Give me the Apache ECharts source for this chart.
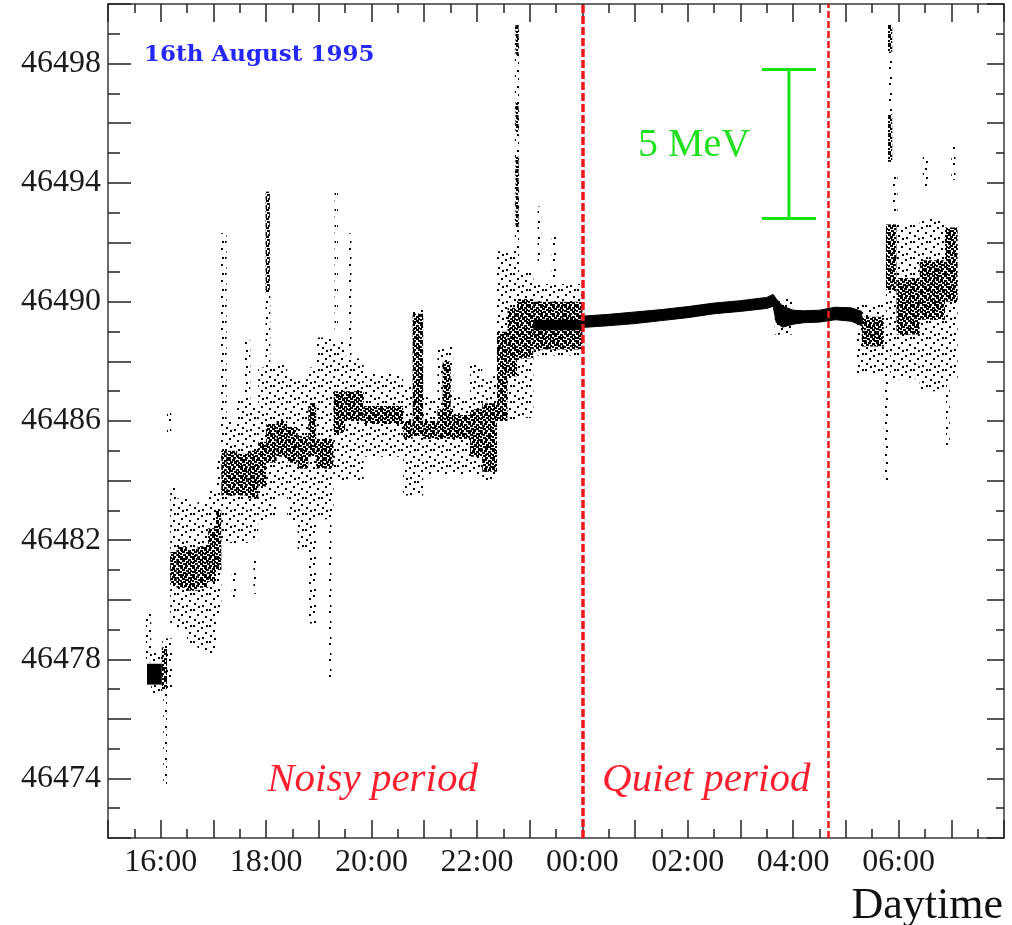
<!DOCTYPE html>
<html>
<head>
<meta charset="utf-8">
<title>Beam energy, 16th August 1995</title>
<script src="https://cdn.jsdelivr.net/npm/echarts@6/dist/echarts.min.js"></script>
<style>
  html, body { margin: 0; padding: 0; background: #fff; }
  #chart { width: 1012px; height: 925px; }
</style>
</head>
<body>
<div id="chart"></div>
<script>
// Time is in hours from 00:00 of 16 August (24 = midnight, 28.667 = 04:40 next day).
// Energy in MeV. Each band is [tStart, tEnd, eLow, eHigh].

// Stable track during the quiet period: time, lower edge, upper edge
const quietTime = [24.0, 24.5, 25.0, 25.5, 26.0, 26.5, 27.0, 27.5, 27.62, 27.68, 27.8, 28.0, 28.2, 28.5, 28.8, 29.1, 29.3];
const quietLow  = [46489.14, 46489.2, 46489.27, 46489.37, 46489.47, 46489.6, 46489.68, 46489.78, 46489.85, 46489.3, 46489.15, 46489.25, 46489.3, 46489.32, 46489.4, 46489.35, 46489.2];
const quietHigh = [46489.52, 46489.58, 46489.66, 46489.74, 46489.84, 46489.96, 46490.04, 46490.15, 46490.25, 46490.1, 46489.85, 46489.72, 46489.7, 46489.72, 46489.82, 46489.8, 46489.68];

// Very dense stretches in the noisy part
const solidBands = [
  [15.74, 16.02, 46477.15, 46477.85],
  [23.07, 24.00, 46489.05, 46489.40]
];

// Cores of the noisy clusters
const denseBands = [
  [16.02, 16.12, 46477.0, 46478.4],
  [16.18, 16.30, 46480.5, 46481.6],
  [16.30, 16.50, 46480.4, 46481.8],
  [16.50, 16.70, 46480.3, 46481.7],
  [16.70, 16.90, 46480.4, 46481.8],
  [16.90, 17.05, 46480.6, 46482.4],
  [17.05, 17.15, 46481.0, 46483.0],
  [17.15, 17.25, 46483.5, 46485.0],
  [17.25, 17.45, 46483.5, 46485.0],
  [17.45, 17.65, 46483.5, 46484.9],
  [17.65, 17.85, 46483.4, 46485.0],
  [17.85, 18.00, 46483.8, 46485.3],
  [17.99, 18.07, 46490.3, 46493.7],
  [18.00, 18.20, 46484.6, 46485.9],
  [18.20, 18.40, 46484.8, 46486.0],
  [18.40, 18.60, 46484.6, 46485.8],
  [18.60, 18.80, 46484.4, 46485.5],
  [18.80, 18.95, 46484.8, 46486.6],
  [18.95, 19.28, 46484.4, 46485.4],
  [19.28, 19.50, 46485.6, 46487.0],
  [19.50, 19.85, 46486.0, 46487.0],
  [19.85, 20.60, 46485.9, 46486.5],
  [20.60, 20.78, 46485.4, 46486.0],
  [20.78, 20.98, 46485.5, 46489.6],
  [20.98, 21.25, 46485.4, 46486.0],
  [21.25, 21.55, 46485.4, 46486.4],
  [21.35, 21.50, 46486.4, 46488.0],
  [21.55, 21.87, 46485.4, 46486.2],
  [21.87, 22.10, 46484.8, 46486.4],
  [22.10, 22.38, 46484.3, 46486.6],
  [22.38, 22.58, 46486.0, 46489.0],
  [22.58, 22.76, 46487.5, 46489.8],
  [22.73, 22.79, 46498.3, 46499.3],
  [22.73, 22.79, 46495.7, 46496.7],
  [22.73, 22.79, 46492.5, 46494.9],
  [22.76, 23.07, 46488.1, 46490.1],
  [23.07, 24.00, 46488.4, 46490.0],
  [29.30, 29.72, 46488.5, 46489.5],
  [29.76, 29.96, 46490.4, 46492.6],
  [29.80, 29.88, 46498.4, 46499.3],
  [29.80, 29.88, 46494.7, 46496.3],
  [29.96, 30.40, 46488.9, 46490.8],
  [30.40, 30.88, 46489.4, 46491.4],
  [30.88, 31.12, 46490.0, 46492.5]
];

// Scattered points around the cores
const sparseBands = [
  [15.72, 15.82, 46477.9, 46479.6],
  [15.82, 16.03, 46476.8, 46478.3],
  [16.05, 16.12, 46473.8, 46477.0],
  [16.03, 16.22, 46477.0, 46478.7],
  [16.12, 16.20, 46485.6, 46486.4],
  [16.18, 16.30, 46479.2, 46483.8],
  [16.30, 16.50, 46479.0, 46483.4],
  [16.50, 16.70, 46478.4, 46483.2],
  [16.70, 16.90, 46478.3, 46483.3],
  [16.90, 17.05, 46478.2, 46483.7],
  [17.05, 17.15, 46479.5, 46484.9],
  [17.13, 17.25, 46485.0, 46492.3],
  [17.15, 17.45, 46481.9, 46486.0],
  [17.35, 17.45, 46480.1, 46481.0],
  [17.45, 17.65, 46481.9, 46486.7],
  [17.60, 17.70, 46486.2, 46488.7],
  [17.65, 17.85, 46482.0, 46486.6],
  [17.76, 17.82, 46480.2, 46481.3],
  [17.85, 18.00, 46482.6, 46487.8],
  [17.99, 18.08, 46486.0, 46490.3],
  [18.00, 18.20, 46482.7, 46487.8],
  [18.20, 18.40, 46483.5, 46487.9],
  [18.40, 18.60, 46482.6, 46487.5],
  [18.60, 18.80, 46481.7, 46487.4],
  [18.80, 18.95, 46479.2, 46487.8],
  [18.95, 19.28, 46482.7, 46488.8],
  [19.18, 19.24, 46477.3, 46482.7],
  [19.30, 19.36, 46489.0, 46493.7],
  [19.28, 19.50, 46484.0, 46488.7],
  [19.50, 19.85, 46484.0, 46488.1],
  [19.56, 19.62, 46488.1, 46492.3],
  [19.85, 20.60, 46484.8, 46487.6],
  [20.60, 20.78, 46483.5, 46487.2],
  [20.78, 20.98, 46483.5, 46489.8],
  [20.98, 21.25, 46484.2, 46486.8],
  [21.25, 21.55, 46484.2, 46488.5],
  [21.55, 21.87, 46484.2, 46486.8],
  [21.87, 22.10, 46484.2, 46487.9],
  [22.10, 22.38, 46484.0, 46487.5],
  [22.38, 22.76, 46486.0, 46491.7],
  [22.72, 22.80, 46490.5, 46499.3],
  [22.76, 23.07, 46486.1, 46491.0],
  [23.05, 24.00, 46488.2, 46490.6],
  [23.15, 23.22, 46491.3, 46493.2],
  [23.42, 23.50, 46490.6, 46492.3],
  [27.65, 28.00, 46488.9, 46490.1],
  [29.20, 29.72, 46487.6, 46489.9],
  [29.72, 29.80, 46484.0, 46488.9],
  [29.80, 29.88, 46496.3, 46498.4],
  [29.76, 29.96, 46488.3, 46490.4],
  [29.88, 29.98, 46493.0, 46494.3],
  [29.84, 30.40, 46487.4, 46492.6],
  [30.40, 30.88, 46487.0, 46492.8],
  [30.46, 30.56, 46493.8, 46494.9],
  [30.85, 31.12, 46487.4, 46492.5],
  [30.90, 30.97, 46485.2, 46487.4],
  [31.00, 31.08, 46494.1, 46495.3]
];

// Start and end of the quiet period (00:00 and 04:40)
const periodBounds = [24.0, 28.667];

// 5 MeV reference bar: [time, low, high]
const energyBar = [[27.92, 46492.8, 46497.8]];

// Axis ranges and tick steps
const timeRange = [15, 32];
const energyRange = [46472, 46500];
const energyLabelStep = 4;
const energyLabelBase = 46474;

// Free text placed in data coordinates (centre of the text): [time, energy, text, style]
const notes = [
  [17.87, 46498.3, '16th August 1995', 'date'],
  [26.12, 46495.25, '5 MeV', 'bar'],
  [20.02, 46473.95, 'Noisy period', 'period'],
  [26.35, 46473.95, 'Quiet period', 'period']
];

// Stipple textures for the point clouds (dot positions inside one tile)
function makePattern(w, h, cells) {
  const c = document.createElement('canvas');
  c.width = w; c.height = h;
  const g = c.getContext('2d');
  g.fillStyle = '#000';
  cells.forEach(([x, y, cw, ch]) => g.fillRect(x, y, cw, ch));
  return c;
}
const densePattern = makePattern(12, 9, [
  [0, 0, 3, 2], [4, 0, 3, 2], [8, 1, 3, 2], [2, 2, 3, 2], [6, 3, 3, 2],
  [10, 3, 2, 2], [0, 4, 2, 2], [3, 5, 3, 2], [8, 5, 3, 2], [0, 7, 3, 2],
  [5, 7, 3, 2], [10, 7, 2, 2]
]);
const sparsePattern = makePattern(16, 16, [
  [1, 1, 2, 2], [9, 3, 2, 2], [5, 6, 2, 2], [13, 8, 2, 2],
  [2, 11, 2, 2], [10, 13, 2, 2], [14, 1, 2, 2], [6, 14, 2, 2]
]);

function bandRenderer(fill) {
  return function (params, api) {
    const p0 = api.coord([api.value(0), api.value(3)]);
    const p1 = api.coord([api.value(1), api.value(2)]);
    return {
      type: 'rect',
      shape: {
        x: p0[0], y: p0[1],
        width: Math.max(p1[0] - p0[0], 2),
        height: Math.max(p1[1] - p0[1], 2)
      },
      style: { fill: fill }
    };
  };
}

// The quiet track is one polygon: upper edge forward, lower edge back
function renderTrack(params, api) {
  if (params.dataIndex !== 0) return null;
  const upper = quietTime.map((t, i) => api.coord([t, quietHigh[i]]));
  const lower = quietTime.map((t, i) => api.coord([t, quietLow[i]])).reverse();
  return {
    type: 'polygon',
    shape: { points: upper.concat(lower) },
    style: { fill: '#000', stroke: '#000', lineWidth: 1 }
  };
}

function hourLabel(h) {
  if (h % 2 !== 0 || h >= timeRange[1]) return '';
  return String(h % 24).padStart(2, '0') + ':00';
}

const serif = '"Liberation Serif", "Times New Roman", serif';
const frameColor = '#3a3a3a';

const baseX = {
  type: 'value', min: timeRange[0], max: timeRange[1], interval: 1,
  axisLine: { show: true, onZero: false, lineStyle: { color: frameColor, width: 1.5 } },
  axisTick: { show: true, inside: true, length: 18, lineStyle: { color: '#222', width: 1.5 } },
  minorTick: { show: true, splitNumber: 2, length: 9, lineStyle: { color: '#222', width: 1.5 } },
  splitLine: { show: false }
};
const baseY = {
  type: 'value', min: energyRange[0], max: energyRange[1], interval: 2,
  axisLine: { show: true, onZero: false, lineStyle: { color: frameColor, width: 1.5 } },
  axisTick: { show: true, inside: true, length: 23, lineStyle: { color: '#222', width: 1.5 } },
  minorTick: { show: true, splitNumber: 2, length: 12, lineStyle: { color: '#222', width: 1.5 } },
  splitLine: { show: false }
};

const chart = echarts.init(document.getElementById('chart'), null, { renderer: 'canvas' });

chart.setOption({
  animation: false,
  backgroundColor: '#fff',
  grid: { left: 108, right: 8, top: 4, bottom: 87, containLabel: false },
  xAxis: [
    Object.assign({}, baseX, {
      position: 'bottom',
      axisLabel: {
        show: true, margin: 9, formatter: hourLabel,
        fontFamily: serif, fontSize: 32, color: '#1a1a1a'
      }
    }),
    Object.assign({}, baseX, { position: 'top', axisLabel: { show: false } })
  ],
  yAxis: [
    Object.assign({}, baseY, {
      position: 'left',
      axisLabel: {
        show: true, margin: 7,
        formatter: v => ((v - energyLabelBase) % energyLabelStep === 0 ? String(v) : ''),
        fontFamily: serif, fontSize: 32, color: '#1a1a1a'
      }
    }),
    Object.assign({}, baseY, {
      position: 'right',
      axisTick: { show: true, inside: true, length: 17, lineStyle: { color: '#222', width: 1.5 } },
      minorTick: { show: true, splitNumber: 2, length: 8, lineStyle: { color: '#222', width: 1.5 } },
      axisLabel: { show: false }
    })
  ],
  series: [
    {
      name: 'spread', type: 'custom', clip: true, silent: true,
      renderItem: bandRenderer({ image: sparsePattern, repeat: 'repeat' }),
      encode: { x: [0, 1], y: [2, 3] },
      data: sparseBands, z: 2
    },
    {
      name: 'core', type: 'custom', clip: true, silent: true,
      renderItem: bandRenderer({ image: densePattern, repeat: 'repeat' }),
      encode: { x: [0, 1], y: [2, 3] },
      data: denseBands, z: 3
    },
    {
      name: 'solid', type: 'custom', clip: true, silent: true,
      renderItem: bandRenderer('#000'),
      encode: { x: [0, 1], y: [2, 3] },
      data: solidBands, z: 4
    },
    {
      name: 'track', type: 'custom', clip: true, silent: true,
      renderItem: renderTrack,
      encode: { x: 0, y: [1, 2] },
      data: quietTime.map((t, i) => [t, quietLow[i], quietHigh[i]]), z: 4,
      markLine: {
        silent: true, symbol: 'none', label: { show: false },
        emphasis: { disabled: true },
        data: [
          { xAxis: periodBounds[0], lineStyle: { color: '#f01818', width: 3.5, type: [8, 3] } },
          { xAxis: periodBounds[1], lineStyle: { color: '#f01818', width: 2.5, type: [7, 3] } }
        ]
      }
    },
    {
      name: '5 MeV', type: 'custom', clip: false, silent: true, z: 5,
      encode: { x: 0, y: [1, 2] },
      data: energyBar,
      renderItem: function (params, api) {
        const top = api.coord([api.value(0), api.value(2)]);
        const bot = api.coord([api.value(0), api.value(1)]);
        const half = 27;
        const st = { stroke: '#16e316', lineWidth: 3 };
        return {
          type: 'group',
          children: [
            { type: 'line', shape: { x1: top[0], y1: top[1], x2: bot[0], y2: bot[1] }, style: st },
            { type: 'line', shape: { x1: top[0] - half, y1: top[1], x2: top[0] + half, y2: top[1] }, style: st },
            { type: 'line', shape: { x1: bot[0] - half, y1: bot[1], x2: bot[0] + half, y2: bot[1] }, style: st }
          ]
        };
      }
    }
  ]
});

// Annotations
const noteStyles = {
  date:   { font: '600 23px "DejaVu Serif", serif', fill: '#2626ff' },
  bar:    { font: '40px "Liberation Serif", serif', fill: '#1ee01e' },
  period: { font: 'italic 41px "Liberation Serif", serif', fill: '#ff1f2e' }
};
const graphics = notes.map(([t, e, text, kind]) => {
  const p = chart.convertToPixel({ xAxisIndex: 0, yAxisIndex: 0 }, [t, e]);
  const s = noteStyles[kind];
  return {
    type: 'text', x: p[0], y: p[1], silent: true, z: 10,
    style: { text: text, font: s.font, fill: s.fill, align: 'center', verticalAlign: 'middle' }
  };
});
graphics.push({
  type: 'text', right: 9, bottom: -3, silent: true, z: 10,
  style: { text: 'Daytime', font: '44px "Liberation Serif", serif', fill: '#111' }
});
chart.setOption({ graphic: graphics });
</script>
</body>
</html>
